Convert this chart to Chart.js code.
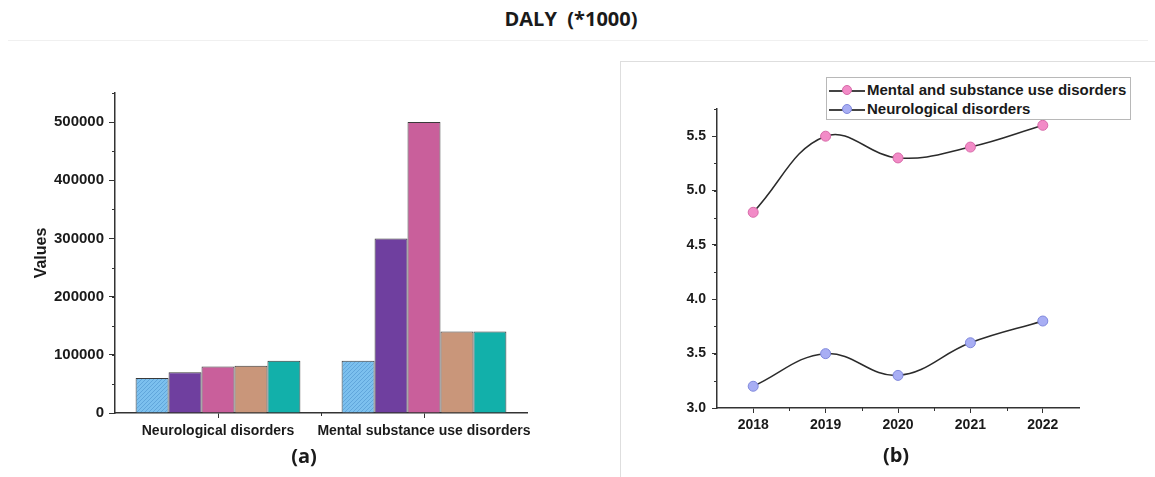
<!DOCTYPE html>
<html><head><meta charset="utf-8">
<script src="https://cdn.jsdelivr.net/npm/chart.js@4"></script>
<style>
html,body{margin:0;padding:0;background:#fff;width:1155px;height:477px;overflow:hidden;font-family:"Liberation Sans",Arial,sans-serif;}
#title{position:absolute;left:0;width:1142px;top:5px;text-align:center;font:bold 20px "Open Sans","Liberation Sans",sans-serif;color:#1a1a1a;}
#hline{position:absolute;left:8px;width:1140px;top:40px;height:1px;background:#f0f0f0;}
#panelB{position:absolute;left:620px;top:61px;width:540px;height:420px;border:1px solid #dedede;box-sizing:border-box;}
#cA{position:absolute;left:0;top:45px;}
#cB{position:absolute;left:620px;top:62px;}
.cap{position:absolute;width:60px;text-align:center;font:bold 20px "Open Sans","Liberation Sans",sans-serif;color:#1a1a1a;}
#legend{position:absolute;left:826px;top:77px;width:305px;height:43px;border:1px solid #b8b8b8;box-sizing:border-box;background:#fff;}
.lrow{position:absolute;left:0;height:18px;font:bold 15px "Liberation Sans",Arial,sans-serif;color:#1a1a1a;white-space:nowrap;}
.lsym{position:absolute;left:2px;top:9px;width:36px;height:1.5px;background:#444;}
.ldot{position:absolute;left:13px;top:-5px;width:10px;height:10px;border-radius:50%;box-sizing:border-box;}
.ltxt{position:absolute;left:40px;top:0;line-height:18px;}
</style></head>
<body>
<div id="title">DALY&nbsp; (*1000)</div>
<div id="hline"></div>
<div id="panelB"></div>
<canvas id="cA" width="600" height="430"></canvas>
<canvas id="cB" width="535" height="415"></canvas>
<div class="cap" style="left:274px;top:442px;">(a)</div>
<div class="cap" style="left:866px;top:441px;">(b)</div>
<div id="legend"></div>
<script>
// ---- Data ----
const barCategories = ["Neurological disorders", "Mental substance use disorders"];
const barSeriesNames = ["2018", "2019", "2020", "2021", "2022"];
const bar2018 = [60000, 90000];
const bar2019 = [70000, 300000];
const bar2020 = [80000, 500000];
const bar2021 = [81000, 140000];
const bar2022 = [90000, 140000];
const barYTicks = [0, 100000, 200000, 300000, 400000, 500000];

const years = ["2018", "2019", "2020", "2021", "2022"];
const mentalSeries = [4.8, 5.5, 5.3, 5.4, 5.6];
const neuroSeries = [3.2, 3.5, 3.3, 3.6, 3.8];
const lineNames = ["Mental and substance use disorders", "Neurological disorders"];
const lineYTicks = [3.0, 3.5, 4.0, 4.5, 5.0, 5.5];

// ---- Helpers ----
const tickFont = {family: '"Liberation Sans", Arial, sans-serif', weight: 'bold', size: 15};
const tickFontB = {family: '"Liberation Sans", Arial, sans-serif', weight: 'bold', size: 14};
const labFont = {family: '"Liberation Sans", Arial, sans-serif', weight: 'bold', size: 14};
const axisColor = '#333';

const minorTicks = {
  id: 'minorTicks',
  afterDraw(chart, args, opts) {
    const ctx = chart.ctx; ctx.save();
    ctx.strokeStyle = axisColor; ctx.lineWidth = 1;
    const y = chart.scales.y;
    if (opts.yStep) {
      for (let k = 0; y.min + k * opts.yStep <= y.max + 1e-9; k++) {
        const v = y.min + k * opts.yStep;
        const p = Math.round(y.getPixelForValue(v)) + 0.5;
        ctx.beginPath(); ctx.moveTo(y.right, p); ctx.lineTo(y.right - 3, p); ctx.stroke();
      }
    }
    const x = chart.scales.x; const n = x.ticks.length;
    for (let i = 0; i < n - 1; i++) {
      const p = Math.round((x.getPixelForTick(i) + x.getPixelForTick(i + 1)) / 2) + 0.5;
      ctx.beginPath(); ctx.moveTo(p, x.top); ctx.lineTo(p, x.top + 3); ctx.stroke();
    }
    ctx.restore();
  }
};

function hatchPattern(ctx) {
  const c = document.createElement('canvas'); c.width = 4; c.height = 4;
  const g = c.getContext('2d');
  g.fillStyle = '#7cc0ee'; g.fillRect(0, 0, 4, 4);
  g.strokeStyle = '#5a9fd6'; g.lineWidth = 0.8;
  g.beginPath();
  g.moveTo(0, 4); g.lineTo(4, 0);
  g.moveTo(-2, 2); g.lineTo(2, -2);
  g.moveTo(2, 6); g.lineTo(6, 2);
  g.stroke();
  return ctx.createPattern(c, 'repeat');
}

// ---- Chart (a) ----
const ctxA = document.getElementById('cA').getContext('2d');
const barColors = [hatchPattern(ctxA), '#6f3f9f', '#c95f9b', '#c9967a', '#12b0aa'];
const barValues = [bar2018, bar2019, bar2020, bar2021, bar2022];

new Chart(ctxA, {
  type: 'bar',
  data: {
    labels: barCategories,
    datasets: barValues.map((d, i) => ({
      label: barSeriesNames[i], data: d,
      backgroundColor: barColors[i], borderColor: '#3a3a3a', borderWidth: 1,
      categoryPercentage: 0.8, barPercentage: 1.0
    }))
  },
  options: {
    responsive: false, devicePixelRatio: 1, animation: false,
    layout: {padding: {left: 0, right: 73, top: 48, bottom: 0}},
    plugins: {legend: {display: false}, tooltip: {enabled: false}, minorTicks: {yStep: 50000}},
    scales: {
      x: {
        grid: {display: true, drawOnChartArea: false, offset: false, tickLength: 5, color: axisColor, lineWidth: 1},
        border: {display: true, color: axisColor, width: 1.5},
        ticks: {font: labFont, color: '#1a1a1a', padding: 5, maxRotation: 0, autoSkip: false},
        afterFit(s) { s.height = 62; }
      },
      y: {
        min: 0, max: 550000,
        grid: {display: true, drawOnChartArea: false, tickLength: 6, color: axisColor, lineWidth: 1},
        border: {display: true, color: axisColor, width: 1.5},
        ticks: {font: tickFont, color: '#1a1a1a', padding: 5, autoSkip: false, callback: v => String(v)},
        afterBuildTicks(s) { s.ticks = barYTicks.map(v => ({value: v})); },
        title: {display: true, text: 'Values', font: {family: '"Liberation Sans", Arial, sans-serif', weight: 'bold', size: 16}, color: '#1a1a1a', padding: {top: 32, bottom: 0}},
        afterFit(s) { s.width = 115; }
      }
    }
  },
  plugins: [minorTicks]
});

// ---- Chart (b) ----
const ctxB = document.getElementById('cB').getContext('2d');
const pointFills = ['#f28bc7', '#a8aef4'];
const pointBorders = ['#d76aa8', '#7f88dc'];
new Chart(ctxB, {
  type: 'line',
  data: {
    labels: years,
    datasets: [mentalSeries, neuroSeries].map((d, i) => ({
      label: lineNames[i], data: d,
      borderColor: '#2b2b2b', borderWidth: 1.5, tension: 0.4,
      pointRadius: 5, pointBackgroundColor: pointFills[i], pointBorderColor: pointBorders[i], pointBorderWidth: 1,
      fill: false, clip: false
    }))
  },
  options: {
    responsive: false, devicePixelRatio: 1, animation: false,
    layout: {padding: {left: 0, right: 76, top: 47, bottom: 0}},
    plugins: {legend: {display: false}, tooltip: {enabled: false}, minorTicks: {yStep: 0.25}},
    scales: {
      x: {
        offset: true,
        grid: {display: true, drawOnChartArea: false, offset: false, tickLength: 5, color: axisColor, lineWidth: 1},
        border: {display: true, color: axisColor, width: 1.5},
        ticks: {font: tickFontB, color: '#1a1a1a', padding: 4, maxRotation: 0, autoSkip: false},
        afterFit(s) { s.height = 69; }
      },
      y: {
        min: 3.0, max: 5.75,
        grid: {display: true, drawOnChartArea: false, tickLength: 5, color: axisColor, lineWidth: 1},
        border: {display: true, color: axisColor, width: 1.5},
        ticks: {font: tickFontB, color: '#1a1a1a', padding: 6, autoSkip: false, callback: v => Number(v).toFixed(1)},
        afterBuildTicks(s) { s.ticks = lineYTicks.map(v => ({value: v})); },
        afterFit(s) { s.width = 97; }
      }
    }
  },
  plugins: [minorTicks]
});

// ---- Legend (b) ----
const leg = document.getElementById('legend');
lineNames.forEach((name, i) => {
  const row = document.createElement('div');
  row.className = 'lrow'; row.style.top = (i === 0 ? 3 : 22) + 'px';
  row.innerHTML = '<div class="lsym"><div class="ldot" style="background:' + pointFills[i] + ';border:1px solid ' + pointBorders[i] + '"></div></div><div class="ltxt"></div>';
  row.querySelector('.ltxt').textContent = name;
  leg.appendChild(row);
});
</script>
</body></html>
